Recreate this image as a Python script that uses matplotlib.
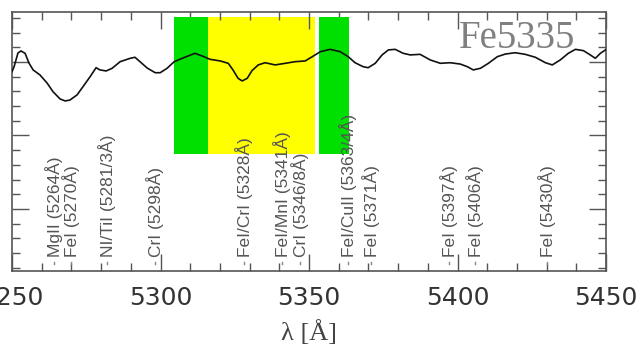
import matplotlib
matplotlib.use("Agg")
import matplotlib.pyplot as plt
from matplotlib.ticker import MultipleLocator, FixedLocator

# Spectrum around the Fe5335 Lick index (normalised flux)
wave = [5250.0, 5250.7, 5252.0, 5253.0, 5254.4, 5255.7, 5257.1, 5259.4, 5261.8, 5263.8,
        5266.2, 5267.9, 5269.5, 5271.9, 5273.9, 5276.3, 5278.3, 5279.6, 5281.7, 5283.7,
        5286.4, 5289.8, 5291.4, 5293.1, 5295.5, 5298.2, 5299.9, 5302.2, 5304.6, 5307.3,
        5311.6, 5314.0, 5316.7, 5320.1, 5322.8, 5324.4, 5326.1, 5327.5, 5329.2, 5330.8,
        5332.9, 5335.2, 5338.6, 5342.0, 5345.3, 5348.7, 5351.1, 5353.8, 5357.1, 5360.5,
        5363.2, 5365.5, 5368.2, 5369.9, 5372.3, 5374.6, 5376.7, 5379.0, 5381.7, 5384.1,
        5387.4, 5390.8, 5394.2, 5397.5, 5400.9, 5403.3, 5405.3, 5407.7, 5410.4, 5413.4,
        5416.1, 5419.4, 5422.8, 5426.2, 5429.6, 5431.9, 5434.6, 5437.3, 5439.7, 5442.4,
        5444.7, 5446.4, 5448.1, 5450.1]
flux = [0.934, 0.968, 1.061, 1.075, 1.059, 0.993, 0.946, 0.912, 0.857, 0.798,
        0.748, 0.735, 0.741, 0.776, 0.832, 0.900, 0.961, 0.946, 0.939, 0.957,
        1.002, 1.025, 1.032, 1.002, 0.959, 0.927, 0.927, 0.957, 1.002, 1.025,
        1.059, 1.041, 1.018, 1.007, 0.991, 0.946, 0.889, 0.871, 0.889, 0.941,
        0.980, 0.995, 0.980, 0.991, 1.002, 1.007, 1.036, 1.070, 1.086, 1.070,
        1.036, 0.995, 0.968, 0.961, 0.991, 1.048, 1.082, 1.086, 1.059, 1.048,
        1.052, 1.014, 0.991, 0.995, 0.986, 0.968, 0.946, 0.957, 0.991, 1.036,
        1.054, 1.063, 1.052, 1.032, 0.995, 0.980, 1.014, 1.059, 1.086, 1.077,
        1.048, 1.025, 1.059, 1.086]

# Index definition: central bandpass and pseudo-continua (Angstrom)
index_name = "Fe5335"
band_central = (5312.125, 5352.125)
band_blue = (5304.625, 5315.875)
band_red = (5353.375, 5363.375)

# Absorption features contributing in this region
line_wave = [5264, 5270, 5282, 5298, 5328, 5341, 5347, 5363, 5371, 5397, 5406, 5430]
line_text = ["MgII (5264Å)", "FeI (5270Å)", "NI/TiI (5281/3Å)", "CrI (5298Å)",
             "FeI/CrI (5328Å)", "FeI/MnI (5341Å)", "CrI (5346/8Å)", "FeI/CuII (5363/4Å)",
             "FeI (5371Å)", "FeI (5397Å)", "FeI (5406Å)", "FeI (5430Å)"]

fig = plt.figure(figsize=(6.39, 3.46), dpi=100)
ax = fig.add_axes([0.0188, 0.2168, 0.9296, 0.7485])

xmin, xmax = 5250, 5450
ymin, ymax = -0.422, 1.340
band_lo, band_hi = 0.374, 1.306

ax.fill_between(band_central, band_lo, band_hi, color="#ffff00", lw=0, zorder=1)
ax.fill_between(band_blue, band_lo, band_hi, color="#00e000", lw=0, zorder=2)
ax.fill_between(band_red, band_lo, band_hi, color="#00e000", lw=0, zorder=2)

ax.plot(wave, flux, color="#111111", lw=1.2, zorder=4)

for w, t in zip(line_wave, line_text):
    ax.text(w, -0.325, t, rotation=90, ha="center", va="bottom",
            fontsize=12.5, color="#555555", family="Liberation Sans", zorder=5)
    ax.plot([w, w], [-0.36, -0.375], color="#888888", lw=1.0, zorder=5)

ax.text(0.948, 0.897, index_name, transform=ax.transAxes, ha="right", va="center",
        fontsize=28, color="#808080", family="Liberation Serif", zorder=6)

ax.set_xlim(xmin, xmax)
ax.set_ylim(ymin, ymax)
ax.xaxis.set_major_locator(MultipleLocator(50))
ax.xaxis.set_minor_locator(MultipleLocator(10))
ax.yaxis.set_major_locator(FixedLocator([0.0, 0.5, 1.0]))
ax.yaxis.set_minor_locator(MultipleLocator(0.1))
ax.tick_params(which="both", direction="in", top=True, right=True, color="#555555",
               width=1.0)
ax.tick_params(which="major", length=12.5, pad=11, labelsize=18, labelcolor="#333333")
ax.tick_params(which="minor", length=6)
ax.tick_params(axis="y", labelleft=False)
for lab in ax.get_xticklabels():
    lab.set_family("DejaVu Sans")
for s in ax.spines.values():
    s.set_color("#555555")
    s.set_linewidth(1.2)

ax.set_xlabel("λ [Å]", fontsize=19, family="Liberation Serif", color="#444444",
              labelpad=7)

fig.savefig("out.png", dpi=100)
